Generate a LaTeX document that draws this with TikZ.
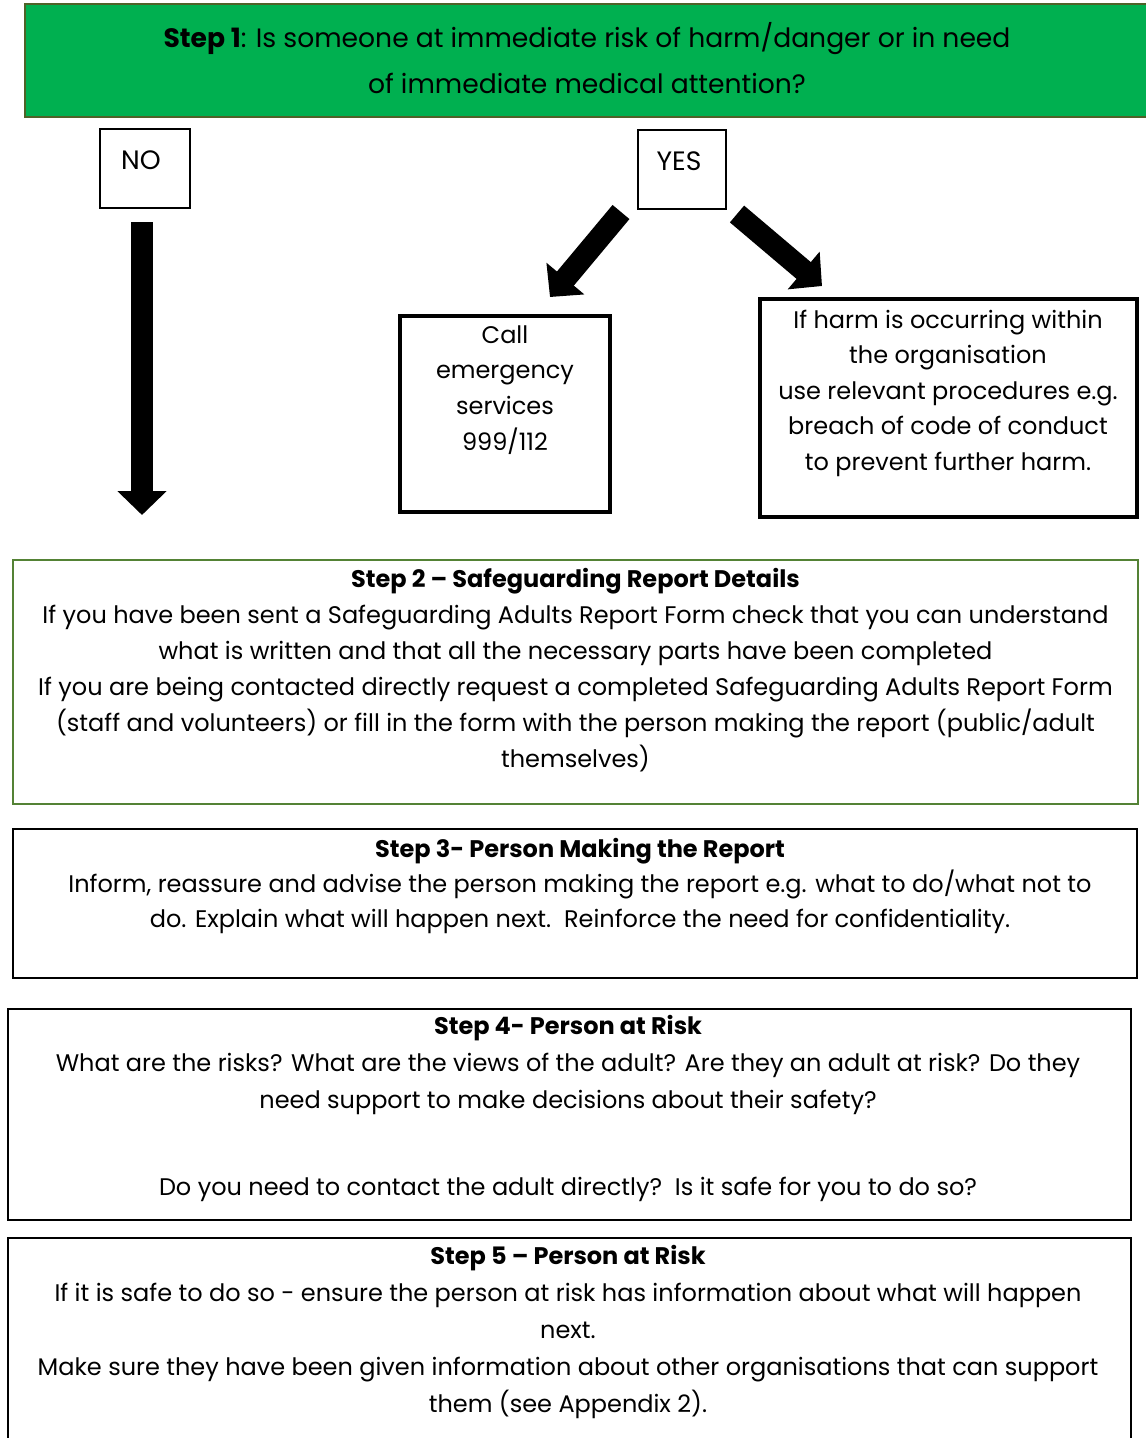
\documentclass[tikz,border=0pt]{standalone}
\usepackage{fontspec}
\setmainfont{Poppins}
\usetikzlibrary{arrows.meta}
\definecolor{stepgreen}{HTML}{00B050}
\definecolor{oliveborder}{HTML}{4F6228}
\definecolor{boxgreen}{HTML}{548235}
\newcommand{\topstrut}{\rule{0pt}{24pt}}
\tikzset{
  frame/.style={draw, inner sep=0pt, outer sep=0pt},
  txt/.style={anchor=north, inner sep=0pt, outer sep=0pt, align=center,
    font=\fontsize{24}{#1}\selectfont},
  txt/.default=36,
  bigtxt/.style={anchor=north, inner sep=0pt, outer sep=0pt, align=center,
    font=\fontsize{26.6}{#1}\selectfont},
  bigtxt/.default=46,
  blockarrow/.style={line width=22pt, -{Triangle[length=24pt,width=48pt]}}
}
\begin{document}
\begin{tikzpicture}[x=1pt,y=-1pt]
\useasboundingbox (0,0) rectangle (1146,1438);
\clip (0,0) rectangle (1146,1438);
% Step 1
\node[frame, fill=stepgreen, draw=oliveborder, line width=1.5pt,
  minimum width=1125pt, minimum height=113pt] (s1) at (587.5,60.5) {};
\node[bigtxt=46] (s1t) at (587,22) {\topstrut\textbf{Step 1}: Is someone at immediate risk of harm/danger or in need\\of immediate medical attention?};
% NO / YES
\node[frame, line width=1.2pt, minimum width=90pt, minimum height=79pt] (no) at (145,168.5) {};
\node[bigtxt] (not) at (141,145) {\topstrut NO};
\node[frame, line width=1.2pt, minimum width=88pt, minimum height=79pt] (yes) at (682,169.5) {};
\node[bigtxt] (yest) at (679,146) {\topstrut YES};
% Call box
\node[frame, line width=4pt, minimum width=210pt, minimum height=196pt] (call) at (505,414) {};
\node[txt=35.7] (callt) at (505,319) {\topstrut Call\\emergency\\services\\999/112};
% Harm box
\node[frame, line width=4pt, minimum width=377pt, minimum height=218pt] (harm) at (948.5,408) {};
\node[txt=35.5] (harmt) at (948,304) {\topstrut If harm is occurring within\\the organisation\\use relevant procedures e.g.\\breach of code of conduct\\to prevent further harm.};
% Arrows
\coordinate (noA) at (142,222);
\coordinate (noB) at (142,515);
\coordinate (lA) at (621,212);
\coordinate (lB) at (550,297);
\coordinate (rA) at (737,214);
\coordinate (rB) at (822,286);
\draw[blockarrow] (noA) -- (noB);
\draw[blockarrow] (lA) -- (lB);
\draw[blockarrow] (rA) -- (rB);
% Step 2
\node[frame, draw=boxgreen, line width=1.5pt, minimum width=1125pt, minimum height=244pt] (s2) at (575.5,682) {};
\node[txt] (s2t) at (575.5,563) {\topstrut\textbf{Step 2 – Safeguarding Report Details}\\
If you have been sent a Safeguarding Adults Report Form check that you can understand\\
what is written and that all the necessary parts have been completed\\
If you are being contacted directly request a completed Safeguarding Adults Report Form\\
(staff and volunteers) or fill in the form with the person making the report (public/adult\\
themselves)};
% Step 3
\node[frame, line width=2pt, minimum width=1124pt, minimum height=149pt] (s3) at (574.5,903) {};
\node[txt=35] (s3t) at (580,833) {\topstrut\textbf{Step 3- Person Making the Report}\\
Inform, reassure and advise the person making the report e.g. what to do/what not to\\
do. Explain what will happen next.\ \ Reinforce the need for confidentiality.};
% Step 4
\node[frame, line width=2pt, minimum width=1123pt, minimum height=211pt] (s4) at (569,1114) {};
\node[txt=37] (s4t) at (568,1010) {\topstrut\textbf{Step 4- Person at Risk}\\
What are the risks? What are the views of the adult? Are they an adult at risk? Do they\\
need support to make decisions about their safety?\\[50pt]
Do you need to contact the adult directly?\ \ Is it safe for you to do so?};
% Step 5
\node[frame, line width=2pt, minimum width=1123pt, minimum height=212pt] (s5) at (569,1344) {};
\node[txt=37] (s5t) at (568,1240) {\topstrut\textbf{Step 5 – Person at Risk}\\
If it is safe to do so - ensure the person at risk has information about what will happen\\
next.\\
Make sure they have been given information about other organisations that can support\\
them (see Appendix 2).};
\end{tikzpicture}
\end{document}
